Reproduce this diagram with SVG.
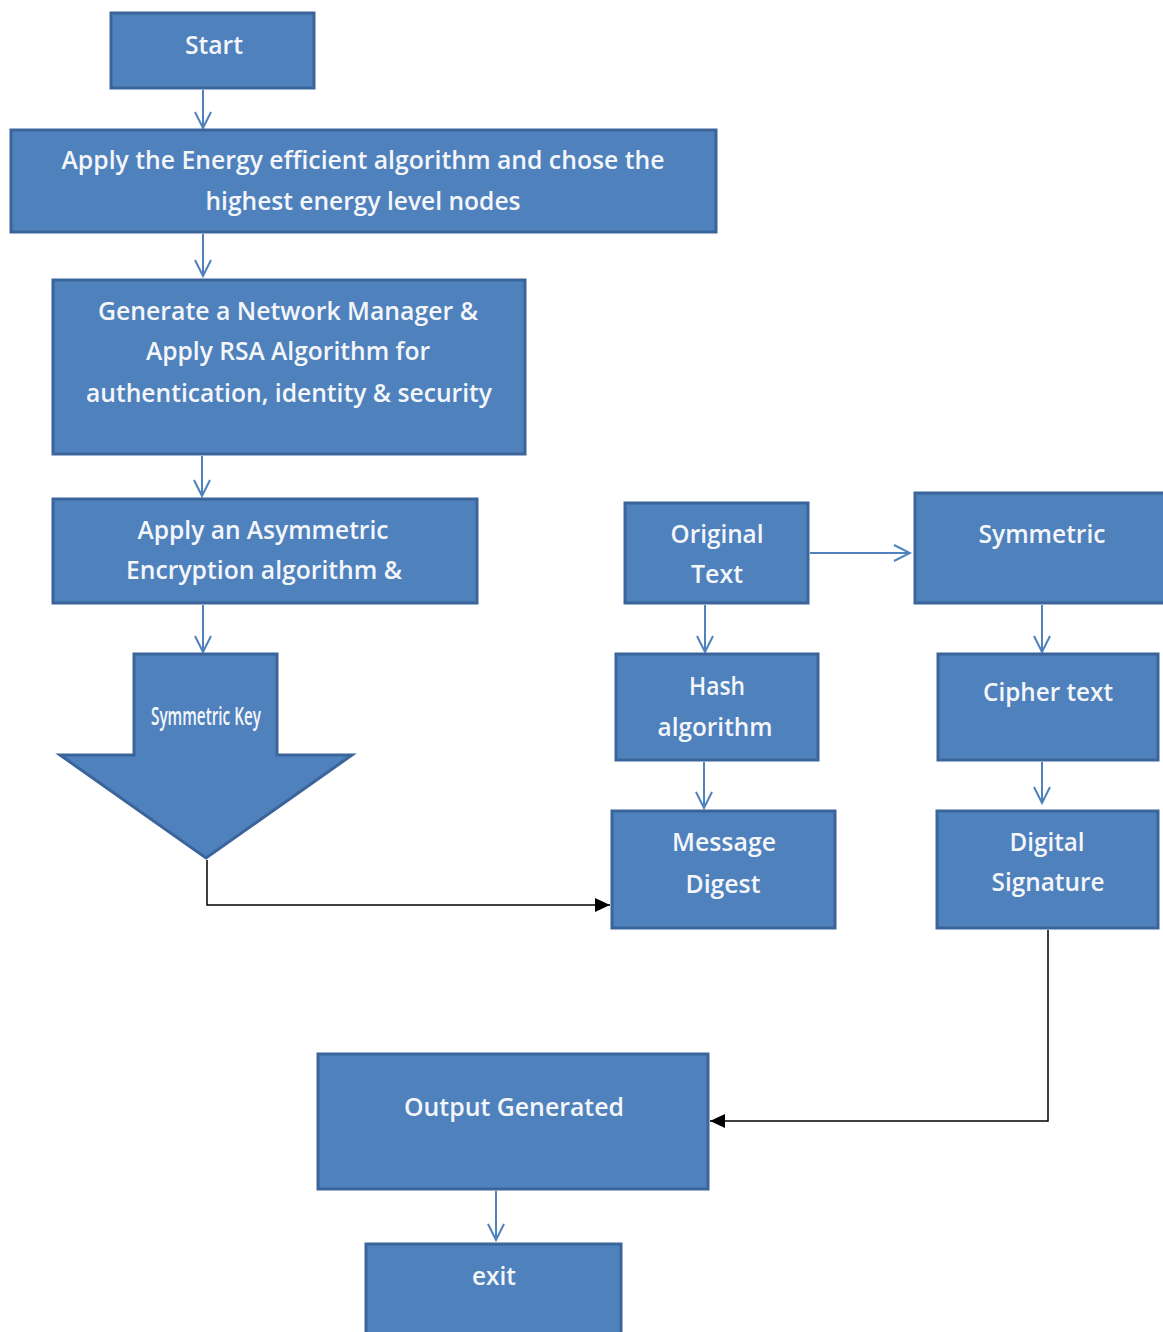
<svg xmlns="http://www.w3.org/2000/svg" width="1163" height="1332" viewBox="0 0 1163 1332">
<defs>
<style>
.box{fill:#4f81bd;stroke:#3b659a;stroke-width:3}
.t{font-family:"Open Sans","Liberation Sans",Arial,sans-serif;font-size:25px;font-weight:600;fill:#f4f6fa;text-anchor:middle}
.bl{stroke:#4f81bd;stroke-width:2;fill:none}
.bk{stroke:#000;stroke-width:1.5;fill:none}
</style>
<marker id="v" markerWidth="20" markerHeight="20" refX="18" refY="10" orient="auto" markerUnits="userSpaceOnUse">
<path d="M2,2 L18,10 L2,18" fill="none" stroke="#4f81bd" stroke-width="2"/>
</marker>
<marker id="f" markerWidth="16" markerHeight="14" refX="15" refY="7" orient="auto" markerUnits="userSpaceOnUse">
<path d="M0,0 L15,7 L0,14 Z" fill="#000"/>
</marker>
</defs>
<rect width="1163" height="1332" fill="#fff"/>
<g id="connectors">
<line class="bl" x1="203" y1="90" x2="203" y2="128" marker-end="url(#v)"/>
<line class="bl" x1="203" y1="234" x2="203" y2="276" marker-end="url(#v)"/>
<line class="bl" x1="202" y1="456" x2="202" y2="496" marker-end="url(#v)"/>
<line class="bl" x1="203" y1="605" x2="203" y2="652" marker-end="url(#v)"/>
<line class="bl" x1="810" y1="553" x2="910" y2="553" marker-end="url(#v)"/>
<line class="bl" x1="705" y1="605" x2="705" y2="652" marker-end="url(#v)"/>
<line class="bl" x1="704" y1="762" x2="704" y2="808" marker-end="url(#v)"/>
<line class="bl" x1="1042" y1="605" x2="1042" y2="652" marker-end="url(#v)"/>
<line class="bl" x1="1042" y1="762" x2="1042" y2="803" marker-end="url(#v)"/>
<line class="bl" x1="496" y1="1191" x2="496" y2="1240" marker-end="url(#v)"/>
<polyline class="bk" points="207,860 207,905 610,905" marker-end="url(#f)"/>
<polyline class="bk" points="1048,930 1048,1121 710,1121" marker-end="url(#f)"/>
</g>
<g id="start"><rect class="box" x="111" y="13" width="203" height="75"/><text class="t" x="214" y="54" textLength="58" lengthAdjust="spacingAndGlyphs">Start</text></g>
<g id="energy"><rect class="box" x="11" y="130" width="705" height="102"/><text class="t" x="363" y="169" textLength="603" lengthAdjust="spacingAndGlyphs">Apply the Energy efficient algorithm and chose the</text><text class="t" x="363" y="210" textLength="315" lengthAdjust="spacingAndGlyphs">highest energy level nodes</text></g>
<g id="network"><rect class="box" x="53" y="280" width="472" height="174"/><text class="t" x="288" y="320" textLength="380" lengthAdjust="spacingAndGlyphs">Generate a Network Manager &amp;</text><text class="t" x="288" y="360" textLength="284" lengthAdjust="spacingAndGlyphs">Apply RSA Algorithm for</text><text class="t" x="289" y="402" textLength="406" lengthAdjust="spacingAndGlyphs">authentication, identity &amp; security</text></g>
<g id="asym"><rect class="box" x="53" y="499" width="424" height="104"/><text class="t" x="263" y="539" textLength="251" lengthAdjust="spacingAndGlyphs">Apply an Asymmetric</text><text class="t" x="264" y="579" textLength="276" lengthAdjust="spacingAndGlyphs">Encryption algorithm &amp;</text></g>
<g id="symkey"><path class="box" d="M134,654 L277,654 L277,755 L352,755 L206,858 L60,755 L134,755 Z"/><text class="t" x="206" y="725" font-size="21" font-weight="normal" textLength="110" lengthAdjust="spacingAndGlyphs">Symmetric Key</text></g>
<g id="original"><rect class="box" x="625" y="503" width="183" height="100"/><text class="t" x="717" y="543" textLength="93" lengthAdjust="spacingAndGlyphs">Original</text><text class="t" x="717" y="583" textLength="52" lengthAdjust="spacingAndGlyphs">Text</text></g>
<g id="symmetric"><rect class="box" x="915" y="493" width="250" height="110"/><text class="t" x="1042" y="543" textLength="127" lengthAdjust="spacingAndGlyphs">Symmetric</text></g>
<g id="hash"><rect class="box" x="616" y="654" width="202" height="106"/><text class="t" x="717" y="695" textLength="56" lengthAdjust="spacingAndGlyphs">Hash</text><text class="t" x="715" y="736" textLength="115" lengthAdjust="spacingAndGlyphs">algorithm</text></g>
<g id="cipher"><rect class="box" x="938" y="654" width="220" height="106"/><text class="t" x="1048" y="701" textLength="130" lengthAdjust="spacingAndGlyphs">Cipher text</text></g>
<g id="digest"><rect class="box" x="612" y="811" width="223" height="117"/><text class="t" x="724" y="851" textLength="104" lengthAdjust="spacingAndGlyphs">Message</text><text class="t" x="723" y="893" textLength="75" lengthAdjust="spacingAndGlyphs">Digest</text></g>
<g id="signature"><rect class="box" x="937" y="811" width="221" height="117"/><text class="t" x="1047" y="851" textLength="75" lengthAdjust="spacingAndGlyphs">Digital</text><text class="t" x="1048" y="891" textLength="113" lengthAdjust="spacingAndGlyphs">Signature</text></g>
<g id="output"><rect class="box" x="318" y="1054" width="390" height="135"/><text class="t" x="514" y="1116" textLength="220" lengthAdjust="spacingAndGlyphs">Output Generated</text></g>
<g id="exit"><rect class="box" x="366" y="1244" width="255" height="90"/><text class="t" x="494" y="1285" textLength="44" lengthAdjust="spacingAndGlyphs">exit</text></g>
</svg>
